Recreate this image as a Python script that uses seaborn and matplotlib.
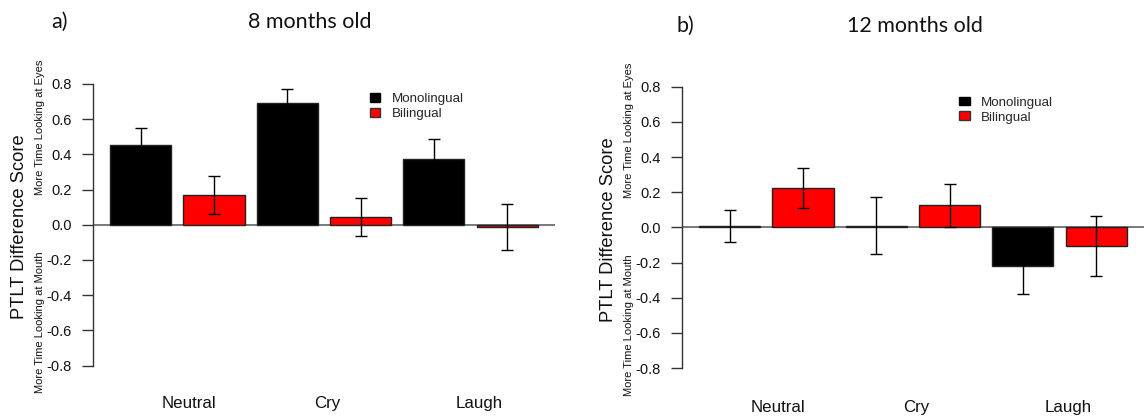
import numpy as np
import pandas as pd
import matplotlib
matplotlib.use("Agg")
import matplotlib.pyplot as plt
from matplotlib.patches import Patch
import seaborn as sns

# ---- data ----
conditions = ["Neutral", "Cry", "Laugh"]
groups = ["Monolingual", "Bilingual"]

mono_8 = [0.453, 0.690, 0.373]
mono_8_se = [0.095, 0.080, 0.115]
bil_8 = [0.169, 0.044, -0.012]
bil_8_se = [0.108, 0.106, 0.131]

mono_12 = [0.008, 0.010, -0.218]
mono_12_se = [0.093, 0.162, 0.162]
bil_12 = [0.224, 0.125, -0.106]
bil_12_se = [0.113, 0.120, 0.172]

yticks = [0.8, 0.6, 0.4, 0.2, 0.0, -0.2, -0.4, -0.6, -0.8]
titles = ["8 months old", "12 months old"]
panel_tags = ["a)", "b)"]
ylabel = "PTLT Difference Score"
eyes_label = "More Time Looking at Eyes"
mouth_label = "More Time Looking at Mouth"

sns.set_style("white")
plt.rcParams["font.family"] = ["Liberation Sans", "DejaVu Sans"]

W, H = 1144, 419
fig = plt.figure(figsize=(W / 100, H / 100), dpi=100)

def px(x, y):
    return x / W, 1 - y / H

panels = [
    dict(mono=mono_8, mono_se=mono_8_se, bil=bil_8, bil_se=bil_8_se,
         left=92.7, top=84.0, bottom=365.5,
         tag_x=51.7, title_x=310, title_base=28.3,
         ylab_x=20, ylab_y=227, small_x=40, eyes_y=127, mouth_y=322,
         cat_x=[0.08, 1.02, 2.06], cat_base=-0.152,
         leg=(0.600, 0.968)),
    dict(mono=mono_12, mono_se=mono_12_se, bil=bil_12, bil_se=bil_12_se,
         left=681.7, top=86.7, bottom=368.1,
         tag_x=676, title_x=914.7, title_base=31.7,
         ylab_x=609, ylab_y=230, small_x=629, eyes_y=130, mouth_y=325,
         cat_x=[0.08, 1.02, 2.06], cat_base=-0.155,
         leg=(0.6005, 0.965)),
]

axw = 462.3
for i, p in enumerate(panels):
    l, b = p["left"] / W, 1 - p["bottom"] / H
    h = (p["bottom"] - p["top"]) / H
    ax = fig.add_axes([l, b, axw / W, h])

    df = pd.DataFrame({
        "condition": conditions * 2,
        "group": [groups[0]] * 3 + [groups[1]] * 3,
        "value": p["mono"] + p["bil"],
    })
    errs = p["mono_se"] + p["bil_se"]

    ax.axhline(0, color="#555555", lw=1.1, zorder=0.5)
    sns.barplot(data=df, x="condition", y="value", hue="group",
                order=conditions, hue_order=groups,
                palette={"Monolingual": "black", "Bilingual": "#ff0000"},
                saturation=1, width=1.0, gap=1/6, errorbar=None,
                edgecolor="#222222", linewidth=1.0, legend=False, ax=ax,
                zorder=1)

    bars = ax.patches[:6]
    xs = [bp.get_x() + bp.get_width() / 2 for bp in bars]
    ax.errorbar(xs, df["value"], yerr=errs, fmt="none", ecolor="black",
                elinewidth=1.0, capsize=4.0, capthick=1.0, zorder=3)

    ax.set_xlim(-0.577, 2.576)
    ax.set_ylim(-0.8, 0.8)
    ax.set_xlabel("")
    ax.set_ylabel("")
    ax.set_xticks([])
    ax.set_yticks(yticks)
    ax.set_yticklabels([f"{v:.1f}" for v in yticks])
    for s in ["top", "right", "bottom"]:
        ax.spines[s].set_visible(False)
    ax.spines["left"].set_color("#333333")
    ax.spines["left"].set_linewidth(1.0)
    ax.tick_params(axis="y", length=7.9, width=1.0, color="#333333",
                   pad=7.0, labelsize=10.5, labelcolor="#111111", left=True)

    for cx, name in zip(p["cat_x"], conditions):
        ax.text(cx, p["cat_base"], name, transform=ax.get_xaxis_transform(),
                ha="center", va="baseline", fontsize=12.2, color="#111111",
                clip_on=False)

    handles = [Patch(facecolor="black", edgecolor="black"),
               Patch(facecolor="#ff0000", edgecolor="#333333")]
    ax.legend(handles, groups, loc="upper left", bbox_to_anchor=p["leg"],
              bbox_transform=ax.transAxes, frameon=False, fontsize=9.6,
              borderpad=0, borderaxespad=0, handlelength=0.78,
              handleheight=0.62, handletextpad=0.85, labelspacing=0.22)

    # titles
    fig.text(*px(p["tag_x"], p["title_base"]), panel_tags[i], ha="left",
             va="baseline", fontsize=15.5, family="Lato", color="#111111")
    fig.text(*px(p["title_x"], p["title_base"]), titles[i], ha="center",
             va="baseline", fontsize=15.5, family="Lato", color="#111111")
    # y labels
    fig.text(*px(p["ylab_x"], p["ylab_y"]), ylabel, rotation=90,
             ha="center", va="center", fontsize=13.2, color="#111111")
    fig.text(*px(p["small_x"], p["eyes_y"]), eyes_label, rotation=90,
             ha="center", va="center", fontsize=8.0, color="#111111")
    fig.text(*px(p["small_x"], p["mouth_y"]), mouth_label, rotation=90,
             ha="center", va="center", fontsize=8.0, color="#111111")

fig.savefig("out.png", dpi=100)
